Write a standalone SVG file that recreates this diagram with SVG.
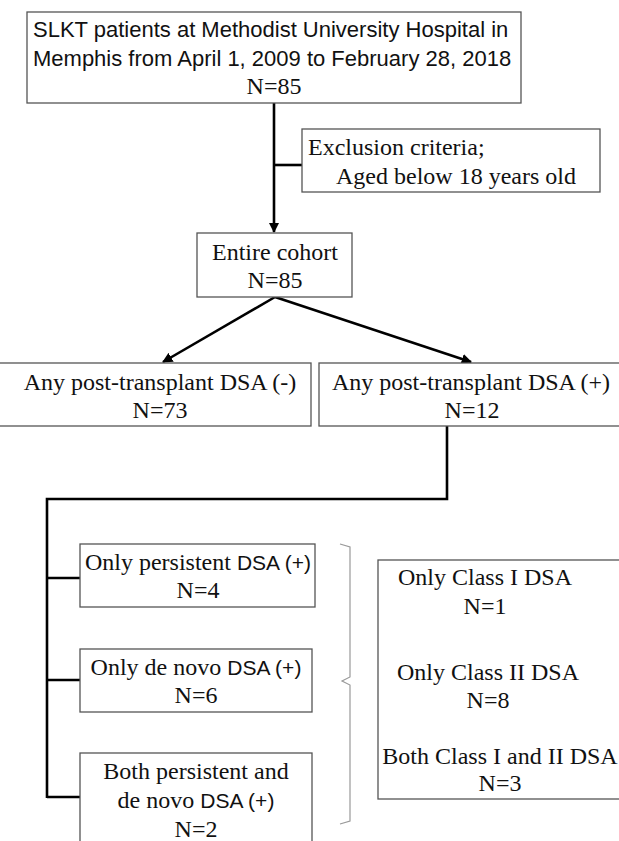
<svg xmlns="http://www.w3.org/2000/svg" width="619" height="841" viewBox="0 0 619 841">
<style>
.box{fill:#fff;stroke:#555;stroke-width:1.3}
.t{font-family:"Liberation Serif","Times New Roman",serif;font-size:24px;fill:#111}
.s{font-family:"Liberation Sans",Arial,sans-serif;font-size:22px;fill:#111}
.ss{font-family:"Liberation Sans",Arial,sans-serif;font-size:21px}
.c{stroke:#000;stroke-width:2.6;fill:none}
.br{stroke:#999;stroke-width:1.2;fill:none}
</style>
<defs>
<marker id="ah" viewBox="0 0 10 10" refX="9" refY="5" markerWidth="4" markerHeight="4" orient="auto" markerUnits="strokeWidth">
<path d="M0,0 L10,5 L0,10 z" fill="#000"/>
</marker>
</defs>
<g id="connectors">
<line class="c" x1="274" y1="103" x2="274" y2="232" marker-end="url(#ah)"/>
<line class="c" x1="274" y1="165" x2="302" y2="165"/>
<line class="c" x1="275" y1="297" x2="163" y2="362" marker-end="url(#ah)"/>
<line class="c" x1="275" y1="297" x2="471" y2="362" marker-end="url(#ah)"/>
<polyline class="c" points="447,426 447,499 47,499 47,798"/>
<line class="c" x1="47" y1="578" x2="80" y2="578"/>
<line class="c" x1="47" y1="680" x2="80" y2="680"/>
<line class="c" x1="47" y1="797" x2="80" y2="797"/>
</g>
<g id="top">
<rect class="box" x="27" y="12" width="494" height="91"/>
<text class="s" x="33" y="37">SLKT patients at Methodist University Hospital in</text>
<text class="s" x="33" y="66">Memphis from April 1, 2009 to February 28, 2018</text>
<text class="t" x="274" y="94" text-anchor="middle">N=85</text>
</g>
<g id="exclusion">
<rect class="box" x="302" y="129" width="298" height="63"/>
<text class="t" x="308" y="155">Exclusion criteria;</text>
<text class="t" x="336" y="184">Aged below 18 years old</text>
</g>
<g id="cohort">
<rect class="box" x="197" y="233" width="155" height="64"/>
<text class="t" x="275" y="260" text-anchor="middle">Entire cohort</text>
<text class="t" x="275" y="288" text-anchor="middle">N=85</text>
</g>
<g id="dsa-neg">
<rect class="box" x="-2" y="363" width="313" height="63"/>
<text class="t" x="160" y="390" text-anchor="middle">Any post-transplant DSA (-)</text>
<text class="t" x="160" y="418" text-anchor="middle">N=73</text>
</g>
<g id="dsa-pos">
<rect class="box" x="319" y="363" width="302" height="63"/>
<text class="t" x="471" y="390" text-anchor="middle">Any post-transplant DSA (+)</text>
<text class="t" x="472" y="418" text-anchor="middle">N=12</text>
</g>
<g id="persistent">
<rect class="box" x="80" y="544" width="235" height="63"/>
<text class="t" x="198" y="570" text-anchor="middle">Only persistent <tspan class="ss">DSA (+)</tspan></text>
<text class="t" x="198" y="598" text-anchor="middle">N=4</text>
</g>
<g id="denovo">
<rect class="box" x="80" y="649" width="232" height="63"/>
<text class="t" x="196" y="675" text-anchor="middle">Only de novo <tspan class="ss">DSA (+)</tspan></text>
<text class="t" x="196" y="703" text-anchor="middle">N=6</text>
</g>
<g id="both">
<rect class="box" x="80" y="753" width="232" height="95"/>
<text class="t" x="196" y="779" text-anchor="middle">Both persistent and</text>
<text class="t" x="196" y="808" text-anchor="middle">de novo <tspan class="ss">DSA (+)</tspan></text>
<text class="t" x="196" y="837" text-anchor="middle">N=2</text>
</g>
<g id="bracket">
<path class="br" d="M340,544 L350,547 L350,677 L342,681 L350,685 L350,821 L340,824"/>
</g>
<g id="classes">
<rect class="box" x="378" y="560" width="245" height="239"/>
<text class="t" x="485" y="585" text-anchor="middle">Only Class I DSA</text>
<text class="t" x="485" y="614" text-anchor="middle">N=1</text>
<text class="t" x="488" y="680" text-anchor="middle">Only Class II DSA</text>
<text class="t" x="488" y="708" text-anchor="middle">N=8</text>
<text class="t" x="500" y="764" text-anchor="middle">Both Class I and II DSA</text>
<text class="t" x="500" y="791" text-anchor="middle">N=3</text>
</g>
</svg>
